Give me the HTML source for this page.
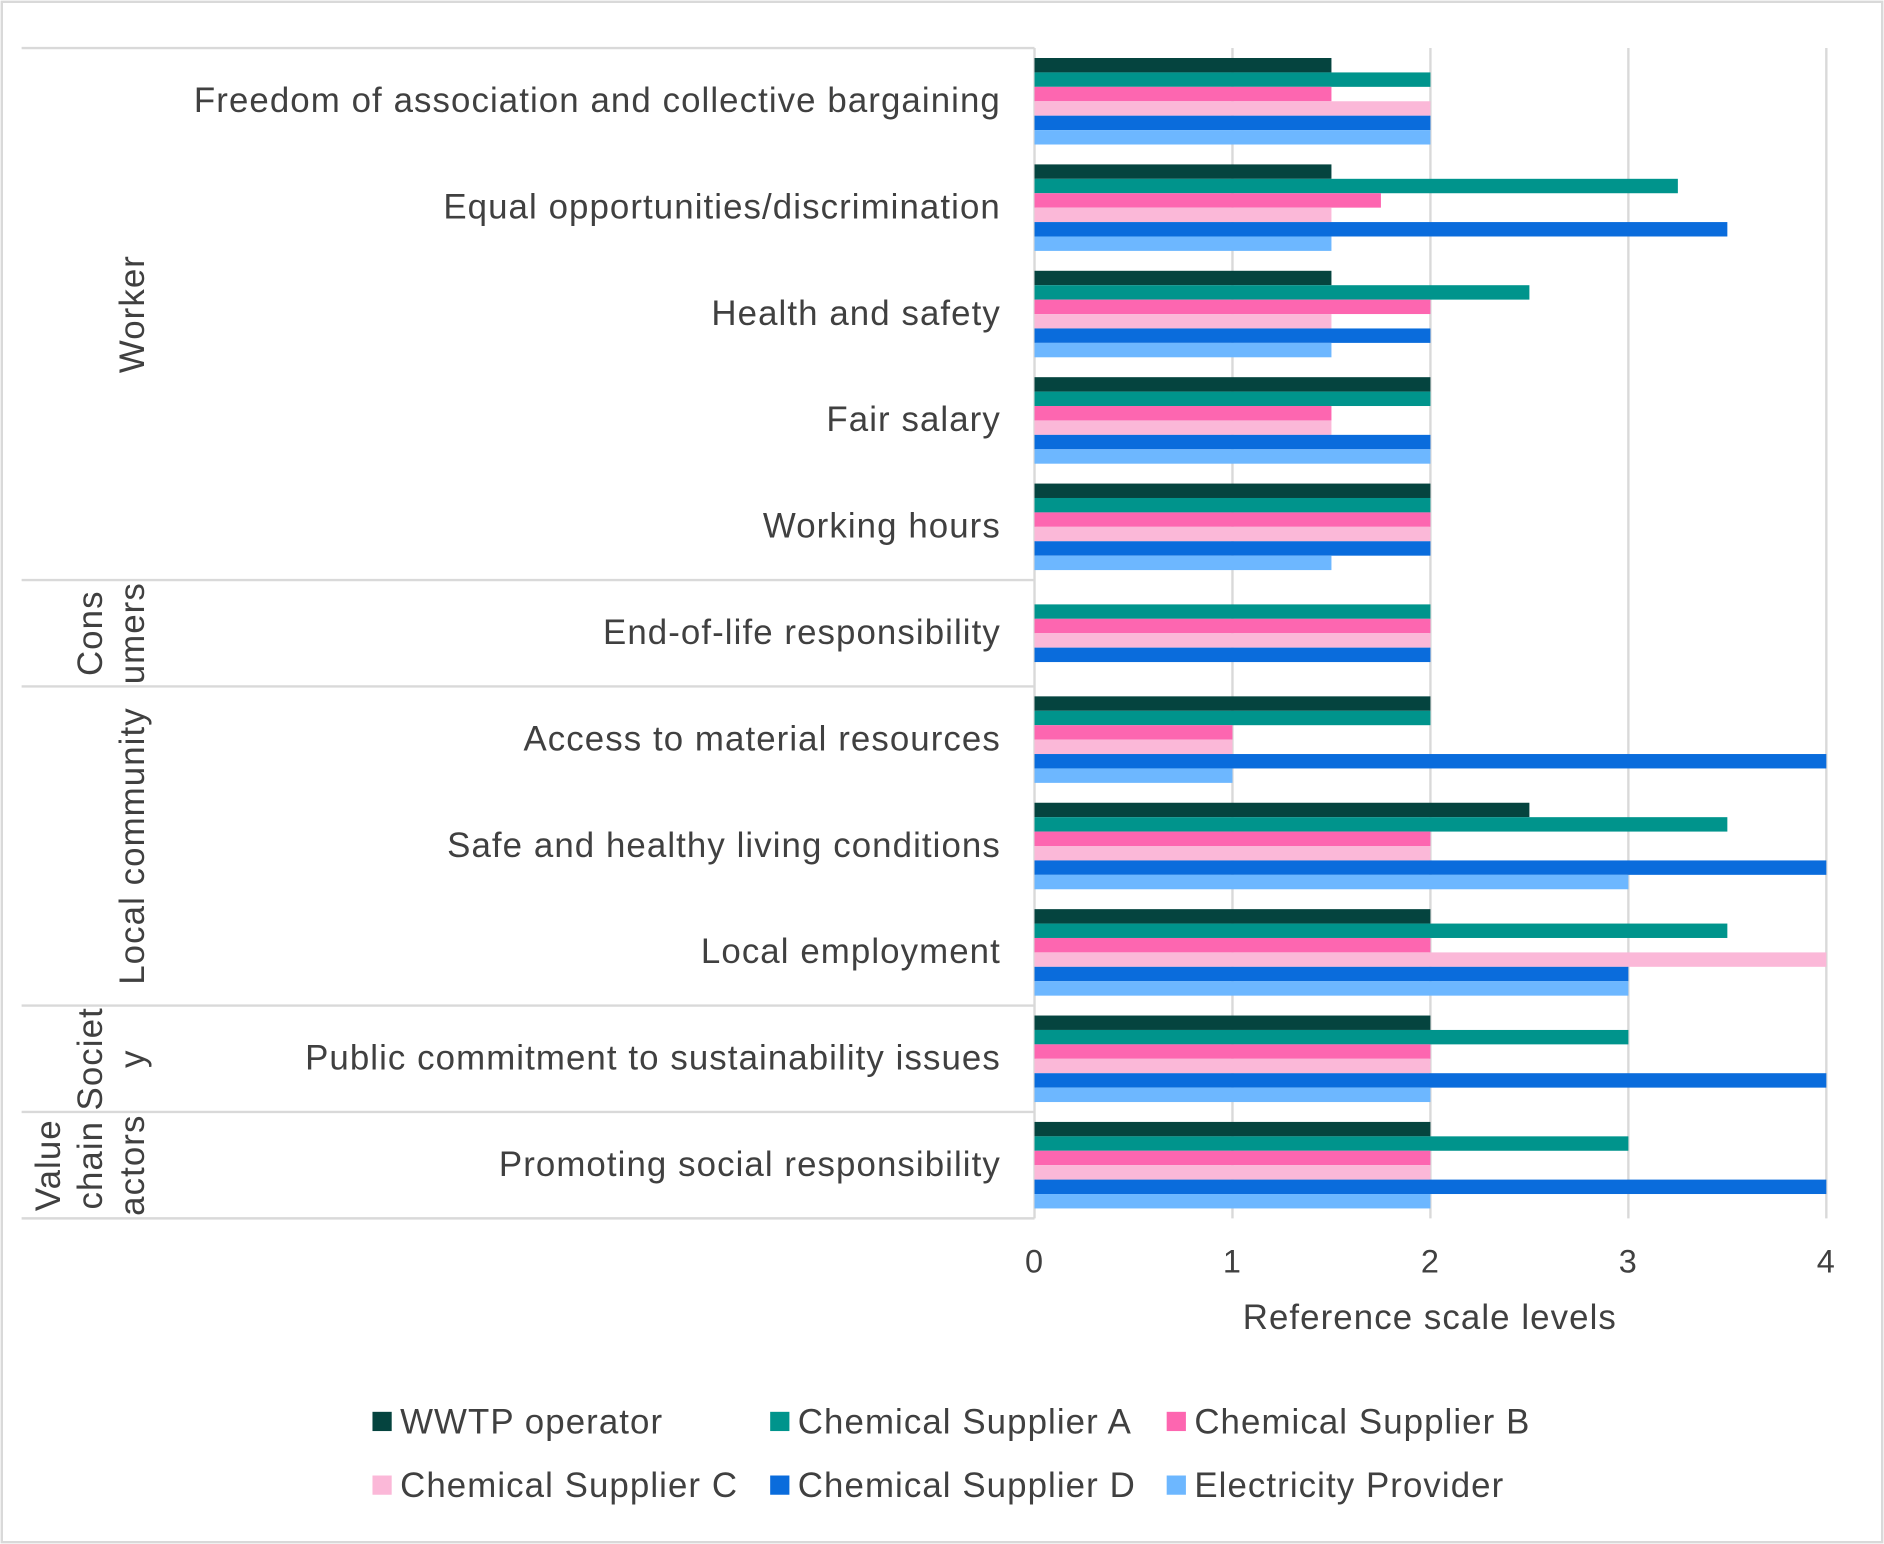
<!DOCTYPE html>
<html><head><meta charset="utf-8"><style>
body{margin:0;background:#fff}
svg{display:block;font-family:"Liberation Sans",sans-serif}
svg text{letter-spacing:0.9px}
</style></head><body>
<svg id="chart" width="1884" height="1544" viewBox="0 0 1568 1285" preserveAspectRatio="none" xmlns="http://www.w3.org/2000/svg">
<rect x="1.5" y="1.5" width="1565" height="1282" fill="#fff" stroke="#d9d9d9" stroke-width="2"/>
<g id="grid"></g><g id="bars"></g><g id="labels"></g><g id="legend"></g>
</svg>
<script>
const categories=["Freedom of association and collective bargaining","Equal opportunities/discrimination","Health and safety","Fair salary","Working hours","End-of-life responsibility","Access to material resources","Safe and healthy living conditions","Local employment","Public commitment to sustainability issues","Promoting social responsibility"];
const seriesNames=["WWTP operator","Chemical Supplier A","Chemical Supplier B","Chemical Supplier C","Chemical Supplier D","Electricity Provider"];
const wwtp=[1.5,1.5,1.5,2,2,0,2,2.5,2,2,2];
const supA=[2,3.25,2.5,2,2,2,2,3.5,3.5,3,3];
const supB=[1.5,1.75,2,1.5,2,2,1,2,2,2,2];
const supC=[2,1.5,1.5,1.5,2,2,1,2,4,2,2];
const supD=[2,3.5,2,2,2,2,4,4,3,4,4];
const elec=[2,1.5,1.5,2,1.5,0,1,3,3,2,2];
const tickLabels=["0","1","2","3","4"];
const groups=[["Worker",0,5],["Cons|umers",5,1],["Local community",6,3],["Societ|y",9,1],["Value|chain|actors",10,1]];
const colors=["#05443f","#00948c","#fd66b0","#fbb8d8","#0a6cdc","#6db7ff"];
const series=[wwtp,supA,supB,supC,supD,elec];
const NS="http://www.w3.org/2000/svg";
const X0=861,X1=1520,MAX=4,Y0=40,Y1=1014;
const band=(Y1-Y0)/categories.length;
const xs=v=>X0+(X1-X0)*v/MAX;
const ys=i=>Y0+band*i;
function mk(tag,attrs,parent,text){const e=document.createElementNS(NS,tag);for(const k in attrs)e.setAttribute(k,attrs[k]);if(text!==undefined)e.textContent=text;parent.appendChild(e);return e;}
const grid=document.getElementById('grid'),bars=document.getElementById('bars'),labels=document.getElementById('labels'),legend=document.getElementById('legend');
tickLabels.forEach((t,i)=>{
  const v=+t;
  if(v>0){const l=mk('line',{x1:xs(v),x2:xs(v),y1:Y0,y2:Y1,stroke:'#d9d9d9','stroke-width':2},grid);
  
  }
  const tx=mk('text',{x:xs(v),y:1059,'text-anchor':'middle','font-size':27,fill:'#404040'},labels,t);
  
  
});
const bh=12,gpad=(band-bh*6)/2;
categories.forEach((c,i)=>{
  series.forEach((s,j)=>{
    if(s[i]<=0)return;
    const r=mk('rect',{x:X0,y:ys(i)+gpad+j*bh,width:xs(s[i])-X0,height:bh,fill:colors[j]},bars);
    
    
  });
  const t=mk('text',{x:833,y:ys(i)+band/2+9,'text-anchor':'end','font-size':29,fill:'#404040'},labels,c);
  
  
});
const ax=mk('line',{x1:X0,x2:X0,y1:Y0,y2:Y1,stroke:'#d9d9d9','stroke-width':2},grid);


groups.forEach(g=>{
  const yt=ys(g[1]),yb=ys(g[1]+g[2]);
  const l=mk('line',{x1:18,x2:X0,y1:yt,y2:yt,stroke:'#d9d9d9','stroke-width':2},grid);
  
  
  const lines=g[0].split('|');const cy=(yt+yb)/2;
  lines.forEach((ln,k)=>{
    const x=110-(lines.length-1-k)*35+10;
    const t=mk('text',{x:x,y:cy,transform:`rotate(-90 ${x} ${cy})`,'text-anchor':'middle','font-size':29,fill:'#404040'},labels,ln);
    
    
  });
});
const bl=mk('line',{x1:18,x2:X0,y1:Y1,y2:Y1,stroke:'#d9d9d9','stroke-width':2},grid);


const at=mk('text',{x:1190,y:1106,'text-anchor':'middle','font-size':29,fill:'#404040'},labels,'Reference scale levels');


const lx=[310,641,971],ly=[1183,1236];
seriesNames.forEach((n,j)=>{
  const x=lx[j%3],y=ly[Math.floor(j/3)];
  const g=mk('g',{},legend);
  
  
  mk('rect',{x:x,y:y-8,width:16,height:16,fill:colors[j]},g);
  mk('text',{x:x+23,y:y+10,'font-size':29,fill:'#404040'},g,n);
});
</script>
</body></html>
